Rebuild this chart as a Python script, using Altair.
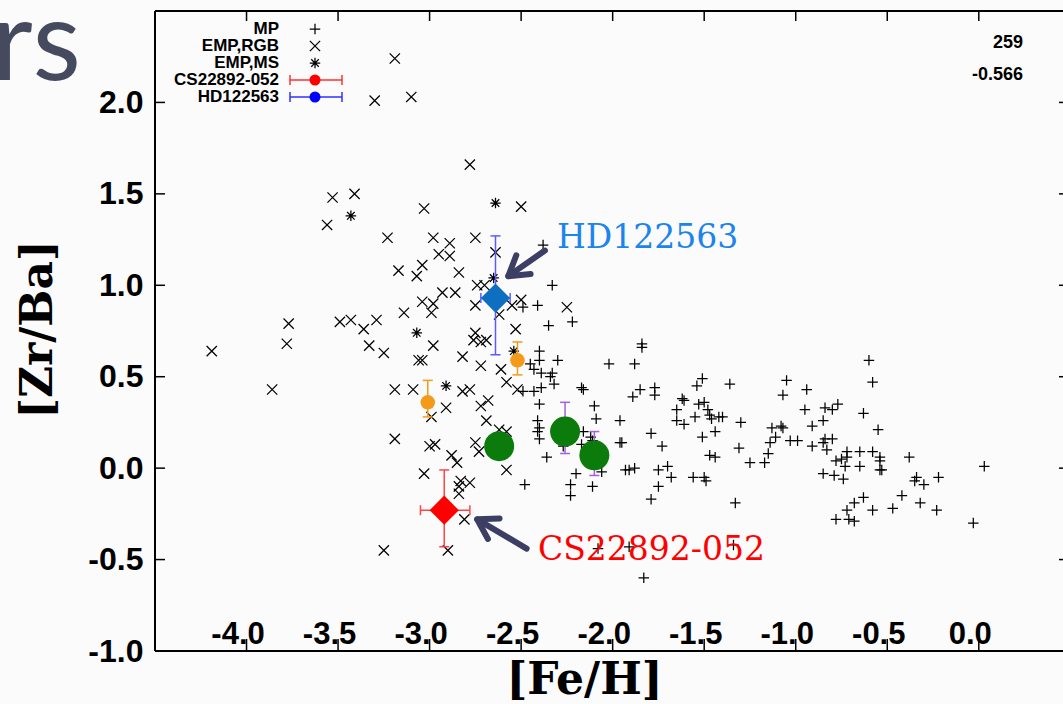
import altair as alt
import pandas as pd

# ---------------- data ----------------
# EMP,RGB stars (x symbols)
rgb_feh = [-3.19, -3.30, -3.10, -2.78, -3.53, -3.41, -3.56, -3.03, -2.50, -3.23,
           -2.98, -2.89, -2.75, -2.95, -2.89, -2.64, -3.17, -3.04, -3.07, -2.84,
           -2.74, -2.70, -2.93, -2.86, -3.04, -2.98, -2.50, -2.55, -2.75, -2.25,
           -2.99, -3.14, -2.62, -2.53, -2.98, -2.75, -2.76, -2.72, -2.69, -3.25,
           -2.82, -2.72, -2.61, -2.58, -2.52, -3.19, -3.09, -2.82, -2.78, -2.91,
           -2.99, -2.72, -2.68, -2.69, -2.62, -2.58, -3.19, -3.00, -2.97, -2.75,
           -2.73, -2.88, -2.85, -3.03, -2.58, -2.83, -2.78, -2.84, -2.84, -2.81,
           -2.90, -3.25, -4.19, -3.77, -3.78, -3.86, -3.49, -3.43, -3.36, -3.29,
           -3.33, -3.06, -3.04]
rgb_zrba = [2.24, 2.01, 2.03, 1.66, 1.48, 1.50, 1.33, 1.42, 1.43, 1.26,
            1.26, 1.23, 1.26, 1.17, 1.16, 1.18, 1.08, 1.11, 1.05, 1.07,
            1.00, 1.00, 0.96, 0.96, 0.91, 0.90, 0.92, 0.89, 0.89, 0.88,
            0.85, 0.85, 0.84, 0.76, 0.67, 0.74, 0.70, 0.69, 0.70, 0.63,
            0.61, 0.56, 0.54, 0.47, 0.43, 0.43, 0.43, 0.42, 0.43, 0.33,
            0.28, 0.34, 0.37, 0.26, 0.21, 0.20, 0.16, 0.12, 0.13, 0.14,
            0.09, 0.07, 0.03, -0.03, -0.01, -0.07, -0.08, -0.10, -0.14, -0.28,
            -0.45, -0.45, 0.64, 0.79, 0.68, 0.43, 0.80, 0.81, 0.76, 0.81,
            0.67, 0.59, 0.59]

# EMP,MS stars (asterisks)
ms_feh = [-3.43, -2.64, -2.91, -2.54, -3.07, -2.65]
ms_zrba = [1.38, 1.45, 0.45, 0.64, 0.74, 1.04]

# MP stars (+ symbols)
mp_feh = [-2.38, -2.33, -2.49, -2.41, -2.35, -2.22, -1.84, -1.84, -2.40, -2.40,
          -2.30, -2.45, -2.43, -2.02, -1.88, -2.39, -2.33, -2.34, -2.32, -2.39,
          -2.43, -2.49, -2.17, -2.16, -1.85, -1.77, -1.77, -1.89, -1.62, -1.61,
          -1.51, -1.54, -1.36, -2.40, -2.10, -2.09, -1.96, -1.65, -1.65, -1.61,
          -1.53, -1.50, -1.48, -1.47, -1.46, -1.42, -1.40, -1.55, -1.30, -2.41,
          -2.40, -2.41, -1.79, -1.44, -2.40, -2.16, -2.12, -2.11, -2.17, -2.27,
          -1.96, -1.95, -1.73, -1.51, -1.31, -1.47, -1.44, -1.25, -1.17, -2.36,
          -2.20, -1.93, -1.91, -1.88, -1.75, -1.70, -1.68, -1.56, -1.50, -1.49,
          -2.06, -2.48, -2.23, -2.23, -2.11, -1.75, -1.79, -1.33, -2.08, -1.91,
          -1.83, -1.34, -0.60, -0.58, -1.05, -1.07, -0.94, -0.95, -0.84, -0.80,
          -0.77, -0.63, -0.55, -1.13, -1.08, -1.07, -0.91, -0.85, -1.11, -1.14,
          -1.03, -0.99, -0.91, -0.84, -0.80, -0.85, -0.83, -1.15, -0.72, -0.72,
          -0.65, -0.78, -0.75, -0.58, -0.54, -0.54, -0.73, -0.65, -0.54, -0.53,
          -0.85, -0.79, -0.74, -0.38, -0.34, -0.35, -0.30, -0.22, 0.03, -0.63,
          -0.68, -0.72, -0.58, -0.47, -0.42, -0.32, -0.23, -0.78, -0.71, -0.68,
          -0.03]
mp_zrba = [1.22, 1.00, 0.88, 0.89, 0.78, 0.80, 0.68, 0.66, 0.64, 0.59,
           0.59, 0.57, 0.54, 0.57, 0.57, 0.52, 0.52, 0.50, 0.46, 0.44,
           0.42, 0.42, 0.44, 0.43, 0.43, 0.44, 0.40, 0.39, 0.38, 0.37,
           0.49, 0.45, 0.46, 0.35, 0.34, 0.27, 0.26, 0.32, 0.26, 0.24,
           0.35, 0.36, 0.32, 0.29, 0.27, 0.28, 0.28, 0.28, 0.25, 0.26,
           0.22, 0.20, 0.19, 0.20, 0.16, 0.20, 0.17, 0.15, 0.13, 0.12,
           0.14, 0.14, 0.12, 0.17, 0.11, 0.07, 0.06, 0.03, 0.03, 0.06,
           -0.03, -0.01, -0.01, 0.00, -0.01, 0.01, -0.05, -0.05, -0.05, -0.07,
           -0.02, -0.09, -0.09, -0.15, -0.10, -0.10, -0.17, -0.19, -0.44, -0.43,
           -0.60, -0.42, 0.59, 0.47, 0.48, 0.40, 0.43, 0.32, 0.33, 0.32,
           0.35, 0.30, 0.21, 0.22, 0.23, 0.22, 0.23, 0.26, 0.17, 0.14,
           0.15, 0.15, 0.12, 0.16, 0.16, 0.14, 0.10, 0.08, 0.09, 0.06,
           0.09, 0.04, 0.05, 0.09, 0.06, 0.04, 0.01, 0.01, -0.01, -0.01,
           -0.03, -0.04, -0.06, 0.06, -0.05, -0.07, -0.09, -0.05, 0.01, -0.16,
           -0.19, -0.23, -0.23, -0.22, -0.15, -0.19, -0.23, -0.28, -0.28, -0.29,
           -0.30]

# highlighted stars
star_names = ["CS22892-052", "HD122563"]
star_feh = [-2.92, -2.64]
star_zrba = [-0.23, 0.93]
star_zrba_lo = [-0.43, 0.62]
star_zrba_hi = [-0.01, 1.27]
star_feh_lo = [-3.05, -2.72]
star_feh_hi = [-2.78, -2.56]
star_colors = ["#ff0000", "#0e6fc1"]
star_err_colors = ["#ff4646", "#5a5aff"]
star_label_colors = ["#ff0000", "#1b84ee"]

orange_feh = [-3.01, -2.52]
orange_zrba = [0.36, 0.59]
orange_lo = [0.28, 0.51]
orange_hi = [0.48, 0.69]

green_feh = [-2.62, -2.26, -2.10]
green_zrba = [0.12, 0.20, 0.07]
greenerr_feh = [-2.26, -2.10]
greenerr_lo = [0.08, -0.04]
greenerr_hi = [0.36, 0.20]

x_ticks = [-4.0, -3.5, -3.0, -2.5, -2.0, -1.5, -1.0, -0.5, 0.0]
y_ticks = [-1.0, -0.5, 0.0, 0.5, 1.0, 1.5, 2.0]

legend_labels = ["MP", "EMP,RGB", "EMP,MS", "CS22892-052", "HD122563"]
legend_err_colors = ["#ff3030", "#3030ff"]
legend_dot_colors = ["#ff0000", "#0000ff"]

stat_lines = ["259", "-0.566"]

arrow_tail_feh = [-2.47, -2.37]
arrow_tail_zrba = [-0.44, 1.19]
arrow_tip_feh = [-2.74, -2.57]
arrow_tip_zrba = [-0.28, 1.05]
arrow_angle = [209.5, 142.7]

# ---------------- styling ----------------
W, H = 908, 640
ARROW = "#3c3e63"
PLUS = "M-1,0L1,0M0,-1L0,1"
CROSS = "M-1,-1L1,1M-1,1L1,-1"
STAR = "M-1,0L1,0M0,-1L0,1M-0.72,-0.72L0.72,0.72M-0.72,0.72L0.72,-0.72"
HCAP = "M-1,0L1,0"
VCAP = "M0,-1L0,1"
HEAD = "M-1,-0.62L0,0L-1,0.62"
LEG_TOP, LEG_STEP = 18, 17          # legend row layout (pixels)

xs = alt.Scale(domain=[-4.5, 0.46], nice=False, zero=False)
ys = alt.Scale(domain=[-1.0, 2.5], nice=False, zero=False)

x_axis = alt.Axis(values=x_ticks, format=".1f",
                  labelExpr="replace(datum.label, '\u2212', '-')",
                  labelFont="Liberation Sans", labelFontSize=31, labelFontWeight="bold",
                  labelColor="black", ticks=False, domain=False, grid=False,
                  labelPadding=-8, labelBaseline="alphabetic", labelFlush=False,
                  labelOffset=-9, labelOverlap=False, title="[Fe/H]", titleFont="DejaVu Serif",
                  titleFontSize=44, titleFontWeight="bold", titleColor="black",
                  titleX=429, titleY=42, titleAlign="center", titleBaseline="alphabetic")
y_axis = alt.Axis(values=y_ticks, format=".1f",
                  labelExpr="replace(datum.label, '\u2212', '-')",
                  labelFont="Liberation Sans", labelFontSize=32, labelFontWeight="bold",
                  labelColor="black", ticks=False, domain=False, grid=False,
                  labelPadding=12, labelFlush=False, labelOverlap=False,
                  title="[Zr/Ba]", titleFont="DejaVu Serif", titleFontSize=44,
                  titleFontWeight="bold", titleColor="black", titleAngle=270,
                  titleX=-104, titleY=318, titleAlign="center", titleBaseline="alphabetic")


def X(f):
    return alt.X(f"{f}:Q", scale=xs, axis=x_axis)


def Y(f):
    return alt.Y(f"{f}:Q", scale=ys, axis=y_axis)


mp_df = pd.DataFrame({"feh": mp_feh, "zrba": mp_zrba})
rgb_df = pd.DataFrame({"feh": rgb_feh, "zrba": rgb_zrba})
ms_df = pd.DataFrame({"feh": ms_feh, "zrba": ms_zrba})
star_df = pd.DataFrame({"name": star_names, "feh": star_feh, "zrba": star_zrba,
                        "lo": star_zrba_lo, "hi": star_zrba_hi,
                        "xlo": star_feh_lo, "xhi": star_feh_hi,
                        "c": star_colors, "ec": star_err_colors, "tc": star_label_colors})
orange_df = pd.DataFrame({"feh": orange_feh, "zrba": orange_zrba, "lo": orange_lo, "hi": orange_hi})
green_df = pd.DataFrame({"feh": green_feh, "zrba": green_zrba})
gerr_df = pd.DataFrame({"feh": greenerr_feh, "lo": greenerr_lo, "hi": greenerr_hi})
xt_df = pd.DataFrame({"v": x_ticks})
yt_df = pd.DataFrame({"v": y_ticks})
arrow_df = pd.DataFrame({"tx": arrow_tail_feh, "ty": arrow_tail_zrba,
                         "hx": arrow_tip_feh, "hy": arrow_tip_zrba, "angle": arrow_angle})
one = pd.DataFrame({"k": [0]})


def sym(df, shape, size=110, sw=1.25, color="black"):
    return alt.Chart(df).mark_point(shape=shape, size=size, strokeWidth=sw, color=color,
                                    opacity=1, filled=False)


mp_layer = sym(mp_df, PLUS).encode(x=X("feh"), y=Y("zrba"))
rgb_layer = sym(rgb_df, CROSS, size=105).encode(x=X("feh"), y=Y("zrba"))
ms_layer = sym(ms_df, STAR).encode(x=X("feh"), y=Y("zrba"))

# error bars
or_rule = alt.Chart(orange_df).mark_rule(color="#f39a1b", strokeWidth=1.5).encode(
    x=X("feh"), y=Y("lo"), y2="hi:Q")
or_cap_lo = sym(orange_df, HCAP, size=100, sw=1.5, color="#f39a1b").encode(x=X("feh"), y=Y("lo"))
or_cap_hi = sym(orange_df, HCAP, size=100, sw=1.5, color="#f39a1b").encode(x=X("feh"), y=Y("hi"))

g_rule = alt.Chart(gerr_df).mark_rule(color="#a360e6", strokeWidth=1.5).encode(
    x=X("feh"), y=Y("lo"), y2="hi:Q")
g_cap_lo = sym(gerr_df, HCAP, size=100, sw=1.5, color="#a360e6").encode(x=X("feh"), y=Y("lo"))
g_cap_hi = sym(gerr_df, HCAP, size=100, sw=1.5, color="#a360e6").encode(x=X("feh"), y=Y("hi"))

ec = alt.Color("ec:N", scale=None)
s_vrule = alt.Chart(star_df).mark_rule(strokeWidth=1.5).encode(x=X("feh"), y=Y("lo"), y2="hi:Q", color=ec)
s_hrule = alt.Chart(star_df).mark_rule(strokeWidth=1.5).encode(x=X("xlo"), x2="xhi:Q", y=Y("zrba"), color=ec)
s_cap1 = sym(star_df, HCAP, size=100, sw=1.5).encode(x=X("feh"), y=Y("lo"), color=ec)
s_cap2 = sym(star_df, HCAP, size=100, sw=1.5).encode(x=X("feh"), y=Y("hi"), color=ec)
s_cap3 = sym(star_df, VCAP, size=100, sw=1.5).encode(x=X("xlo"), y=Y("zrba"), color=ec)
s_cap4 = sym(star_df, VCAP, size=100, sw=1.5).encode(x=X("xhi"), y=Y("zrba"), color=ec)

or_pts = alt.Chart(orange_df).mark_circle(size=210, color="#f39a1b", opacity=1).encode(x=X("feh"), y=Y("zrba"))
g_pts = alt.Chart(green_df).mark_circle(size=900, color="#0b7b0b", opacity=1).encode(x=X("feh"), y=Y("zrba"))
s_pts = alt.Chart(star_df).mark_point(shape="diamond", filled=True, size=850, opacity=1).encode(
    x=X("feh"), y=Y("zrba"), color=alt.Color("c:N", scale=None))

# inward ticks and frame
t_top = alt.Chart(xt_df).mark_rule(color="black", strokeWidth=1.5).encode(
    x=X("v"), y=alt.value(0), y2=alt.value(10))
t_bot = alt.Chart(xt_df).mark_rule(color="black", strokeWidth=1.5).encode(
    x=X("v"), y=alt.value(H - 12), y2=alt.value(H))
t_left = alt.Chart(yt_df).mark_rule(color="black", strokeWidth=1.5).encode(
    y=Y("v"), x=alt.value(0), x2=alt.value(10))
t_right = alt.Chart(yt_df).mark_rule(color="black", strokeWidth=1.5).encode(
    y=Y("v"), x=alt.value(W - 4), x2=alt.value(W))
f_top = alt.Chart(one).mark_rule(color="black", strokeWidth=2).encode(
    x=alt.value(0), x2=alt.value(W), y=alt.value(0))
f_bot = alt.Chart(one).mark_rule(color="black", strokeWidth=2).encode(
    x=alt.value(0), x2=alt.value(W), y=alt.value(H))
f_left = alt.Chart(one).mark_rule(color="black", strokeWidth=2).encode(
    x=alt.value(0), y=alt.value(0), y2=alt.value(H))

# arrows and star labels
a_shaft = alt.Chart(arrow_df).mark_rule(color=ARROW, strokeWidth=6, strokeCap="round").encode(
    x=X("tx"), y=Y("ty"), x2="hx:Q", y2="hy:Q")
a_head = alt.Chart(arrow_df).mark_point(shape=HEAD, size=1444, filled=False, strokeWidth=6,
                                         strokeCap="round", strokeJoin="round", color=ARROW,
                                         opacity=1).encode(
    x=X("hx"), y=Y("hy"), angle=alt.Angle("angle:Q", scale=None))
lab_cs = alt.Chart(star_df).transform_filter(alt.datum.name == "CS22892-052").mark_text(
    align="left", baseline="alphabetic", font="DejaVu Serif", fontSize=33).encode(
    text="name:N", x=alt.value(383), y=alt.value(549), color=alt.Color("tc:N", scale=None))
lab_hd = alt.Chart(star_df).transform_filter(alt.datum.name == "HD122563").mark_text(
    align="left", baseline="alphabetic", font="DejaVu Serif", fontSize=33).encode(
    text="name:N", x=alt.value(402), y=alt.value(237), color=alt.Color("tc:N", scale=None))

# ---------------- legend (drawn inside the plot, top-left) ----------------
legend_layers = []
for i, lab in enumerate(legend_labels):
    ry = LEG_TOP + LEG_STEP * i
    ldf = pd.DataFrame({"label": [lab]})
    legend_layers.append(alt.Chart(ldf).mark_text(
        align="right", baseline="middle", font="Liberation Sans", fontSize=17,
        fontWeight="bold", color="black").encode(
        x=alt.value(124), y=alt.value(ry), text="label:N"))
    if i < 3:
        shape = [PLUS, CROSS, STAR][i]
        legend_layers.append(sym(ldf, shape, size=[110, 105, 110][i]).encode(
            x=alt.value(160), y=alt.value(ry)))
    else:
        lc = legend_err_colors[i - 3]
        dc = legend_dot_colors[i - 3]
        legend_layers.append(alt.Chart(ldf).mark_rule(strokeWidth=1.5, color=lc).encode(
            x=alt.value(135), x2=alt.value(187), y=alt.value(ry)))
        legend_layers.append(sym(ldf, VCAP, size=100, sw=1.5, color=lc).encode(
            x=alt.value(135), y=alt.value(ry)))
        legend_layers.append(sym(ldf, VCAP, size=100, sw=1.5, color=lc).encode(
            x=alt.value(187), y=alt.value(ry)))
        legend_layers.append(alt.Chart(ldf).mark_circle(size=121, opacity=1, color=dc).encode(
            x=alt.value(160), y=alt.value(ry)))

for i, s in enumerate(stat_lines):
    legend_layers.append(alt.Chart(pd.DataFrame({"s": [s]})).mark_text(
        align="right", baseline="middle", font="Liberation Sans", fontSize=18,
        fontWeight="bold", color="black").encode(
        text="s:N", x=alt.value(868), y=alt.value(32 + 32 * i)))

rs_text = alt.Chart(pd.DataFrame({"t": ["rs"]})).mark_text(
    align="left", baseline="alphabetic", font="Lato", fontSize=112,
    color="#464a5f").encode(text="t:N", x=alt.value(-163), y=alt.value(69))

chart = alt.layer(mp_layer, rgb_layer, ms_layer,
                  or_rule, or_cap_lo, or_cap_hi, g_rule, g_cap_lo, g_cap_hi,
                  s_vrule, s_hrule, s_cap1, s_cap2, s_cap3, s_cap4,
                  or_pts, g_pts, s_pts,
                  t_top, t_bot, t_left, t_right, f_top, f_bot, f_left,
                  a_shaft, a_head, lab_cs, lab_hd,
                  *legend_layers, rs_text).properties(
    width=W, height=H,
    padding={"left": 155, "top": 11, "right": 0, "bottom": 53},
    autosize=alt.AutoSizeParams(type="none"),
    background="#fbfbfb",
).configure_view(strokeWidth=0)

chart.save("out.html", embed_options={"renderer": "svg", "actions": False})
